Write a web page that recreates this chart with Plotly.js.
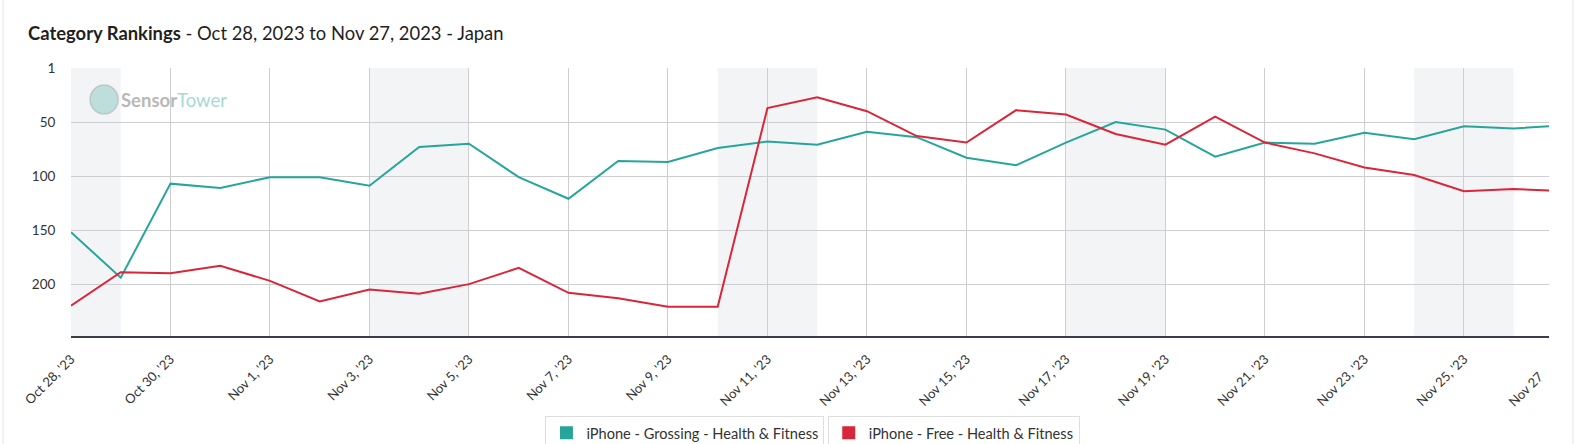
<!DOCTYPE html>
<html>
<head>
<meta charset="utf-8">
<script src="https://cdn.plot.ly/plotly-3.0.1.min.js"></script>
<style>
  html, body { margin: 0; padding: 0; background: #ffffff; }
  #chart { width: 1586px; height: 444px; }
</style>
</head>
<body>
<div id="chart"></div>
<script>
// ---- Data ----
const dates = [
  '2023-10-28','2023-10-29','2023-10-30','2023-10-31','2023-11-01','2023-11-02','2023-11-03',
  '2023-11-04','2023-11-05','2023-11-06','2023-11-07','2023-11-08','2023-11-09','2023-11-10',
  '2023-11-11','2023-11-12','2023-11-13','2023-11-14','2023-11-15','2023-11-16','2023-11-17',
  '2023-11-18','2023-11-19','2023-11-20','2023-11-21','2023-11-22','2023-11-23','2023-11-24',
  '2023-11-25','2023-11-26','2023-11-27'
];
const grossingRank = [152,194,107,111,101,101,109,73,70,101,121,86,87,74,68,71,59,64,83,90,69,50,57,82,69,70,60,66,54,56,53];
const freeRank     = [220,189,190,183,197,216,205,209,200,185,208,213,221,221,37,27,40,63,69,39,43,61,71,45,69,79,92,99,114,112,114];

const seriesNames = ['iPhone - Grossing - Health & Fitness', 'iPhone - Free - Health & Fitness'];
const seriesColors = ['#26a69a', '#d9263a'];

const yTickVals = [0, 50, 100, 150, 200];
const yTickText = ['1', '50', '100', '150', '200'];

const weekendStarts = ['2023-10-27','2023-11-03','2023-11-10','2023-11-17','2023-11-24'];
const weekendEnds   = ['2023-10-29','2023-11-05','2023-11-12','2023-11-19','2023-11-26'];

const FONT = 'Lato, "Noto Sans", "Open Sans", sans-serif';

// ---- Traces ----
const traces = [
  { x: dates, y: grossingRank, type: 'scatter', mode: 'lines', name: seriesNames[0],
    line: { color: seriesColors[0], width: 2 }, showlegend: false },
  { x: dates, y: freeRank, type: 'scatter', mode: 'lines', name: seriesNames[1],
    line: { color: seriesColors[1], width: 2 }, showlegend: false },
  // legend-only entries (square colour chips)
  { x: [null], y: [null], type: 'scatter', mode: 'markers', name: seriesNames[0], legend: 'legend',
    marker: { symbol: 'square', size: 13, color: seriesColors[0] }, showlegend: true },
  { x: [null], y: [null], type: 'scatter', mode: 'markers', name: seriesNames[1], legend: 'legend2',
    marker: { symbol: 'square', size: 13, color: seriesColors[1] }, showlegend: true }
];

// ---- Weekend bands ----
const shapes = weekendStarts.map((s, i) => ({
  type: 'rect', xref: 'x', yref: 'paper', x0: s, x1: weekendEnds[i], y0: 0, y1: 1,
  fillcolor: '#f3f4f6', line: { width: 0 }, layer: 'below'
}));
// card borders
shapes.push({ type: 'line', xref: 'paper', yref: 'paper', x0: -0.046, x1: -0.046, y0: -0.5, y1: 1.4,
  line: { color: '#e4e4e4', width: 1 } });
shapes.push({ type: 'line', xref: 'paper', yref: 'paper', x0: 1.0162, x1: 1.0162, y0: -0.5, y1: 1.4,
  line: { color: '#e4e4e4', width: 1 } });
// watermark circle
shapes.push({ type: 'circle', xref: 'paper', yref: 'paper', x0: 0.0129, x1: 0.0319, y0: 0.828, y1: 0.937,
  fillcolor: 'rgba(160,210,204,0.65)', line: { color: 'rgba(170,180,180,0.6)', width: 1.5 } });

const annotations = [
  { xref: 'paper', yref: 'paper', x: 0.0322, y: 0.882, xanchor: 'left', yanchor: 'middle', showarrow: false,
    text: '<b><span style="color:#b8b8b8">Sensor</span></b><span style="color:#a9d9d4">Tower</span>',
    font: { family: FONT, size: 18.5 } },
  // partially visible last date label (clipped at the plot edge in the reference)
  { xref: 'paper', yref: 'paper', x: 1.0, y: -0.112, xanchor: 'right', yanchor: 'top', showarrow: false,
    text: 'Nov 27', textangle: -45, font: { family: FONT, size: 13, color: '#333333' } }
];

const layout = {
  width: 1586, height: 444,
  margin: { l: 71, r: 37, t: 68, b: 108, autoexpand: false },
  paper_bgcolor: '#ffffff', plot_bgcolor: '#ffffff',
  font: { family: FONT, color: '#333333' },
  title: {
    text: '<b>Category Rankings</b> - Oct 28, 2023 to Nov 27, 2023 - Japan',
    xref: 'container', yref: 'container', x: 0.0177, xanchor: 'left', y: 0.925, yanchor: 'middle',
    font: { family: FONT, size: 18.4, color: '#1f1f1f' }
  },
  xaxis: {
    type: 'date',
    range: ['2023-10-28 00:00', '2023-11-26 17:03'],
    tick0: '2023-10-28', dtick: 2 * 86400000,
    tickformat: "%b %-d, '%y", tickangle: -45,
    tickfont: { family: FONT, size: 13, color: '#333333' },
    ticks: 'outside', ticklen: 9, tickcolor: 'rgba(0,0,0,0)',
    showgrid: true, gridcolor: '#cdcdd2', gridwidth: 1,
    showline: true, linecolor: '#3a3c4a', linewidth: 1.5,
    zeroline: false, automargin: false, fixedrange: true
  },
  yaxis: {
    range: [248, 0],
    tickvals: yTickVals, ticktext: yTickText,
    tickfont: { family: FONT, size: 13.5, color: '#333333' },
    ticks: 'outside', ticklen: 12, tickcolor: 'rgba(0,0,0,0)',
    showgrid: true, gridcolor: '#cdcdd2', gridwidth: 1,
    showline: false, zeroline: false, automargin: false, fixedrange: true
  },
  legend: {
    orientation: 'h', x: 0.321, xanchor: 'left', y: -0.298, yanchor: 'top',
    bordercolor: '#dedede', borderwidth: 1, bgcolor: '#ffffff',
    font: { family: FONT, size: 14.6, color: '#333333' }, itemwidth: 30
  },
  legend2: {
    orientation: 'h', x: 0.512, xanchor: 'left', y: -0.298, yanchor: 'top',
    bordercolor: '#dedede', borderwidth: 1, bgcolor: '#ffffff',
    font: { family: FONT, size: 14.6, color: '#333333' }, itemwidth: 30
  },
  shapes: shapes,
  annotations: annotations,
  hovermode: false
};

Plotly.newPlot('chart', traces, layout, { displayModeBar: false, staticPlot: true });
</script>
</body>
</html>
